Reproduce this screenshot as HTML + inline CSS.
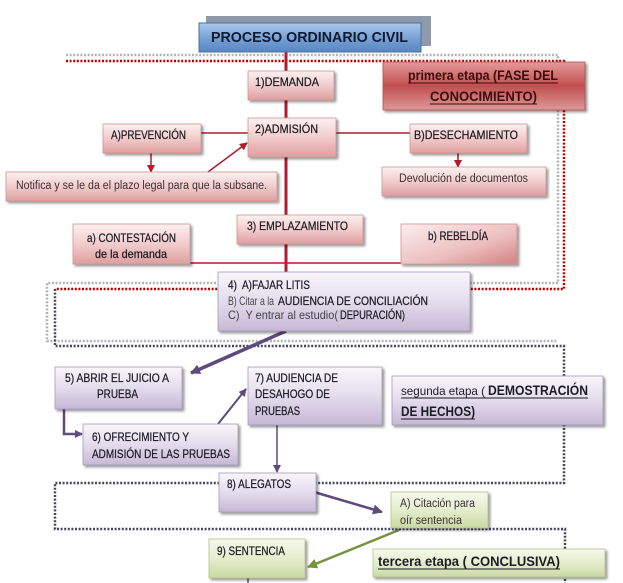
<!DOCTYPE html>
<html><head><meta charset="utf-8">
<style>html,body{margin:0;padding:0;background:#fff;}svg{display:block}</style>
</head>
<body>
<svg width="623" height="583" viewBox="0 0 623 583" xmlns="http://www.w3.org/2000/svg" font-family="'Liberation Sans', sans-serif">
<defs>
  <linearGradient id="gRed" x1="0" y1="0" x2="0" y2="1">
    <stop offset="0" stop-color="#fcf0f0"/><stop offset="0.5" stop-color="#f2cccc"/><stop offset="1" stop-color="#df9e9e"/>
  </linearGradient>
  <linearGradient id="gRedH" x1="0" y1="0" x2="1" y2="1">
    <stop offset="0" stop-color="#fbeeee"/><stop offset="0.6" stop-color="#ecbdbd"/><stop offset="1" stop-color="#d48080"/>
  </linearGradient>
  <linearGradient id="gDark" x1="0" y1="0" x2="0" y2="1">
    <stop offset="0" stop-color="#e49a9a"/><stop offset="0.5" stop-color="#c24f4f"/><stop offset="1" stop-color="#dc9898"/>
  </linearGradient>
  <linearGradient id="gLav" x1="0" y1="0" x2="0" y2="1">
    <stop offset="0" stop-color="#f8f6fb"/><stop offset="0.5" stop-color="#e4dcec"/><stop offset="1" stop-color="#c6b8d6"/>
  </linearGradient>
  <linearGradient id="gGreen" x1="0" y1="0" x2="0" y2="1">
    <stop offset="0" stop-color="#f6f9ec"/><stop offset="0.5" stop-color="#e4edcc"/><stop offset="1" stop-color="#cad9a2"/>
  </linearGradient>
  <linearGradient id="gBlue" x1="0" y1="0" x2="0" y2="1">
    <stop offset="0" stop-color="#a9c6ea"/><stop offset="0.5" stop-color="#7aa3d6"/><stop offset="1" stop-color="#5686c3"/>
  </linearGradient>
  <filter id="sh" x="-10%" y="-10%" width="130%" height="150%">
    <feDropShadow dx="2" dy="2" stdDeviation="1.2" flood-color="#000" flood-opacity="0.4"/>
  </filter>
  <marker id="aRed" markerUnits="userSpaceOnUse" markerWidth="8" markerHeight="8" refX="7" refY="4" orient="auto">
    <path d="M0,0 L8,4 L0,8 z" fill="#b01c2e"/>
  </marker>
  <marker id="aPur" markerUnits="userSpaceOnUse" markerWidth="10" markerHeight="10" refX="9" refY="5" orient="auto">
    <path d="M0,0 L10,5 L0,10 z" fill="#5f4a7c"/>
  </marker>
  <marker id="aPurS" markerUnits="userSpaceOnUse" markerWidth="8" markerHeight="8" refX="7" refY="4" orient="auto">
    <path d="M0,0 L8,4 L0,8 z" fill="#5f4a7c"/>
  </marker>
  <marker id="aGrn" markerUnits="userSpaceOnUse" markerWidth="10" markerHeight="10" refX="9" refY="5" orient="auto">
    <path d="M0,0 L10,5 L0,10 z" fill="#76923c"/>
  </marker>
</defs>

<!-- dotted frames -->
<g fill="none" stroke-width="2.5" stroke-dasharray="2 1.6">
  <path d="M66,55 H558 V283 H47 V341 H557" stroke="#b3b3b3"/>
  <path d="M66,61 H564 V289 H55" stroke="#c00000"/>
  <path d="M55,289 V346 H564 V483 H55 V529 H565 V583" stroke="#46465e"/>
</g>

<!-- red connectors -->
<g stroke="#b01c2e" fill="none">
  <line x1="286" y1="52" x2="286" y2="273" stroke-width="3"/>
  <line x1="201" y1="133" x2="249" y2="133" stroke-width="1.5"/>
  <line x1="336" y1="133" x2="410" y2="133" stroke-width="1.5"/>
  <line x1="190" y1="263" x2="402" y2="263" stroke-width="1.5"/>
  <line x1="151" y1="153" x2="151" y2="172" stroke-width="1.5" marker-end="url(#aRed)"/>
  <line x1="458" y1="153" x2="458" y2="167" stroke-width="1.5" marker-end="url(#aRed)"/>
  <line x1="208" y1="172" x2="247" y2="143" stroke-width="1.5" marker-end="url(#aRed)"/>
</g>
<!-- purple connectors -->
<g stroke="#5f4a7c" fill="none">
  <line x1="286" y1="331" x2="191" y2="373" stroke-width="3.5" marker-end="url(#aPur)"/>
  <polyline points="64,409 64,434 82,434" stroke-width="2.5" marker-end="url(#aPurS)"/>
  <line x1="218" y1="424" x2="246" y2="389" stroke-width="2" marker-end="url(#aPurS)"/>
  <line x1="277" y1="425" x2="277" y2="472" stroke-width="1.5" marker-end="url(#aPurS)"/>
  <line x1="314" y1="492" x2="382" y2="512" stroke-width="2.5" marker-end="url(#aPur)"/>
  <line x1="248" y1="578" x2="248" y2="583" stroke-width="1.5"/>
</g>
<line x1="399" y1="530" x2="308" y2="567" stroke="#76923c" stroke-width="2.5" marker-end="url(#aGrn)"/>

<!-- title -->
<rect x="206" y="16" width="225" height="30" fill="#8e9aa9"/>
<rect x="199" y="23" width="222" height="29" fill="url(#gBlue)" stroke="#4a6f9f" stroke-width="1"/>

<!-- red boxes -->
<g filter="url(#sh)" stroke="#cf9494" stroke-width="0.8">
  <rect x="248" y="71" width="86" height="29" fill="url(#gRed)"/>
  <rect x="248" y="118" width="88" height="39" fill="url(#gRed)"/>
  <rect x="103" y="124" width="98" height="29" fill="url(#gRed)"/>
  <rect x="410" y="124" width="117" height="29" fill="url(#gRed)"/>
  <rect x="382" y="167" width="164" height="29" fill="url(#gRed)"/>
  <rect x="6" y="172" width="271" height="29" fill="url(#gRed)"/>
  <rect x="237" y="215" width="126" height="29" fill="url(#gRed)"/>
  <rect x="73" y="224" width="117" height="40" fill="url(#gRed)"/>
  <rect x="401" y="224" width="116" height="40" fill="url(#gRedH)"/>
  <rect x="383" y="62" width="202" height="48" fill="url(#gDark)" stroke="#b05050"/>
</g>
<!-- lavender boxes -->
<g filter="url(#sh)" stroke="#a599b9" stroke-width="0.8">
  <rect x="218" y="272" width="252" height="59" fill="url(#gLav)"/>
  <rect x="55" y="367" width="127" height="42" fill="url(#gLav)"/>
  <rect x="83" y="424" width="155" height="41" fill="url(#gLav)"/>
  <rect x="248" y="367" width="134" height="58" fill="url(#gLav)"/>
  <rect x="392" y="376" width="211" height="49" fill="url(#gLav)"/>
  <rect x="219" y="473" width="97" height="39" fill="url(#gLav)"/>
</g>
<!-- green boxes -->
<g filter="url(#sh)" stroke="#b2c28e" stroke-width="0.8">
  <rect x="391" y="492" width="97" height="36" fill="url(#gGreen)"/>
  <rect x="209" y="539" width="96" height="39" fill="url(#gGreen)"/>
  <rect x="373" y="549" width="232" height="28" fill="url(#gGreen)"/>
</g>

<!-- texts -->
<text x="211" y="42" font-size="15" font-weight="bold" fill="#0d1b33" textLength="197" lengthAdjust="spacingAndGlyphs">PROCESO ORDINARIO CIVIL</text>

<g font-size="12" fill="#1c1c24" stroke="#1c1c24" stroke-width="0.25">
<text x="255" y="86" textLength="64" lengthAdjust="spacingAndGlyphs">1)DEMANDA</text>
<text x="255" y="133" textLength="63" lengthAdjust="spacingAndGlyphs">2)ADMISIÓN</text>
<text x="111" y="139" textLength="75" lengthAdjust="spacingAndGlyphs">A)PREVENCIÓN</text>
<text x="414" y="139" textLength="104" lengthAdjust="spacingAndGlyphs">B)DESECHAMIENTO</text>
<text x="247" y="230" textLength="101" lengthAdjust="spacingAndGlyphs">3) EMPLAZAMIENTO</text>
<text x="87" y="242" textLength="89" lengthAdjust="spacingAndGlyphs">a) CONTESTACIÓN</text>
<text x="95" y="258" textLength="72" lengthAdjust="spacingAndGlyphs">de la demanda</text>
<text x="428" y="240" textLength="60" lengthAdjust="spacingAndGlyphs">b) REBELDÍA</text>

<text x="228" y="289" textLength="82" lengthAdjust="spacingAndGlyphs" xml:space="preserve">4)  A)FAJAR LITIS</text>
<text x="278" y="305" textLength="150" lengthAdjust="spacingAndGlyphs">AUDIENCIA DE CONCILIACIÓN</text>
<text x="340" y="319" textLength="65" lengthAdjust="spacingAndGlyphs">DEPURACIÓN)</text>

<text x="65" y="382" textLength="104" lengthAdjust="spacingAndGlyphs">5) ABRIR EL JUICIO A</text>
<text x="97" y="398" textLength="41" lengthAdjust="spacingAndGlyphs">PRUEBA</text>
<text x="92" y="441" textLength="97" lengthAdjust="spacingAndGlyphs">6) OFRECIMIENTO Y</text>
<text x="92" y="458" textLength="138" lengthAdjust="spacingAndGlyphs">ADMISIÓN DE LAS PRUEBAS</text>
<text x="255" y="382" textLength="83" lengthAdjust="spacingAndGlyphs">7) AUDIENCIA DE</text>
<text x="255" y="398" textLength="75" lengthAdjust="spacingAndGlyphs">DESAHOGO DE</text>
<text x="255" y="415" textLength="45" lengthAdjust="spacingAndGlyphs">PRUEBAS</text>
<text x="227" y="488" textLength="64" lengthAdjust="spacingAndGlyphs">8) ALEGATOS</text>
<text x="217" y="555" textLength="68" lengthAdjust="spacingAndGlyphs">9) SENTENCIA</text>
</g>

<g font-size="12" fill="#444">
<text x="228" y="305" textLength="46" lengthAdjust="spacingAndGlyphs">B) Citar a la</text>
<text x="228" y="319" textLength="110" lengthAdjust="spacingAndGlyphs" xml:space="preserve">C)  Y entrar al estudio(</text>
</g>

<g font-size="11.5" fill="#3a3038">
<text x="399" y="182" textLength="129" lengthAdjust="spacingAndGlyphs">Devolución de documentos</text>
<text x="16" y="189" textLength="251" lengthAdjust="spacingAndGlyphs">Notifica y se le da el plazo legal para que la subsane.</text>
<text x="400" y="507" textLength="75" lengthAdjust="spacingAndGlyphs">A) Citación para</text>
<text x="400" y="524" textLength="62" lengthAdjust="spacingAndGlyphs">oír sentencia</text>
</g>

<g font-size="14" font-weight="bold" fill="#3d0c0c">
<text x="408" y="80" textLength="150" lengthAdjust="spacingAndGlyphs">primera etapa (FASE DEL</text>
<text x="430" y="101" textLength="107" lengthAdjust="spacingAndGlyphs">CONOCIMIENTO)</text>
</g>
<g stroke="#3d0c0c" stroke-width="1">
<line x1="408" y1="83" x2="558" y2="83"/>
<line x1="430" y1="104" x2="537" y2="104"/>
</g>

<text x="401" y="395" font-size="12" fill="#1c1c24" textLength="84" lengthAdjust="spacingAndGlyphs">segunda etapa (</text>
<text x="488" y="395" font-size="14" font-weight="bold" fill="#1c1c24" textLength="100" lengthAdjust="spacingAndGlyphs">DEMOSTRACIÓN</text>
<text x="401" y="416" font-size="14" font-weight="bold" fill="#1c1c24" textLength="74" lengthAdjust="spacingAndGlyphs">DE HECHOS)</text>
<g stroke="#1c1c24" stroke-width="1">
<line x1="401" y1="398" x2="588" y2="398"/>
<line x1="401" y1="419" x2="475" y2="419"/>
</g>

<text x="378" y="566" font-size="14" font-weight="bold" fill="#1c1c24" textLength="182" lengthAdjust="spacingAndGlyphs">tercera etapa ( CONCLUSIVA)</text>
<line x1="378" y1="569" x2="560" y2="569" stroke="#1c1c24" stroke-width="1"/>
</svg>
</body></html>
